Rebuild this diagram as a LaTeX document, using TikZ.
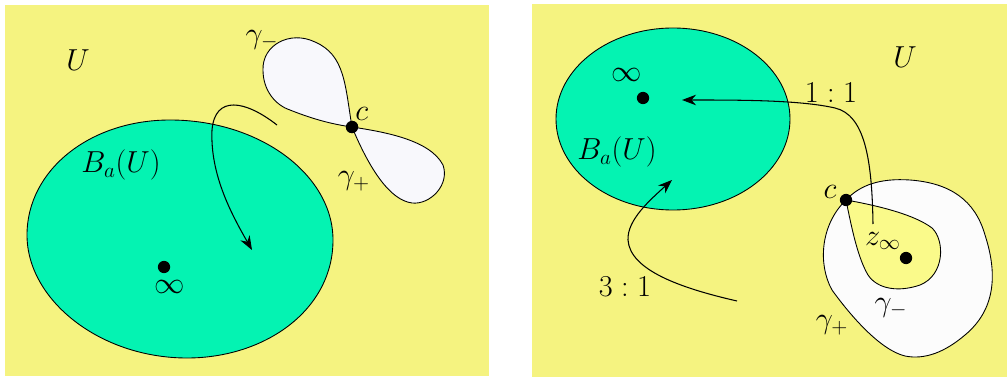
\documentclass[tikz,border=0pt]{standalone}
\usetikzlibrary{arrows.meta}
\definecolor{bgY}{RGB}{245,243,128}
\definecolor{inY}{RGB}{250,250,138}
\definecolor{grn}{RGB}{4,243,178}
\definecolor{lav}{RGB}{248,248,252}
\definecolor{wht}{RGB}{252,252,252}
\begin{document}
\begin{tikzpicture}[x=0.02cm,y=-0.02cm,
  outline/.style={draw=black,line width=0.5pt},
  arr/.style={draw=black,line width=0.6pt,-{Stealth[length=8pt,width=6pt]}},
  lbl/.style={inner sep=0pt,font=\fontsize{18}{20}\selectfont},
  dotn/.style={circle,fill=black,inner sep=0pt,minimum size=7pt}]
\useasboundingbox (0,0) rectangle (1007,378);
% panels
\fill[bgY] (5,5) rectangle (489,376);
\fill[bgY] (532,4) rectangle (1007,377);
% ---------- left panel ----------
\draw[outline,fill=grn] (27,235) .. controls (27,170) and (90,120) .. (170,120)
  .. controls (260,120) and (333,175) .. (333,240)
  .. controls (333,310) and (265,358) .. (187,358)
  .. controls (100,358) and (27,300) .. cycle;
\node[lbl] (U1) at (78,60) {$U$};
\node[lbl] (B1) at (121,165) {$B_a(U)$};
\node[dotn] (inf1) at (164,267) {};
\node[lbl] (inflab1) at (170,287) {$\infty$};
% loops
\node[dotn] (c1) at (352,127) {};
\draw[outline,fill=lav] (c1.center) .. controls (345,85) and (345,55) .. (315,42)
  .. controls (290,30) and (262,45) .. (263,70)
  .. controls (263,90) and (275,105) .. (290,110)
  .. controls (310,118) and (330,124) .. (c1.center);
\draw[outline,fill=lav] (c1.center) .. controls (385,132) and (430,140) .. (443,165)
  .. controls (450,185) and (430,205) .. (412,203)
  .. controls (390,200) and (370,170) .. (c1.center);
\node[dotn] (c1b) at (352,127) {};
\node[lbl,anchor=west] (clab1) at (355,114) {$c$};
\node[lbl] (gm1) at (262,40) {$\gamma_{-}$};
\node[lbl] (gp1) at (354,181) {$\gamma_{+}$};
\coordinate (s1) at (277,125);
\coordinate (t1) at (252,250);
\draw[arr] (s1) .. controls (245,100) and (215,95) .. (212,130) .. controls (210,175) and (232,215) .. (t1);
% ---------- right panel ----------
\draw[outline,fill=grn] (673,119) ellipse [x radius=117, y radius=91];
\node[lbl] (U2) at (905,57) {$U$};
\node[lbl] (B2) at (617,152) {$B_a(U)$};
\node[lbl] (inflab2) at (627,75) {$\infty$};
\node[dotn] (inf2) at (643,98) {};
% gamma+ region
\coordinate (c2) at (846,200);
\draw[outline,fill=wht] (c2) .. controls (860,185) and (880,178) .. (910,180)
  .. controls (950,183) and (975,200) .. (985,235)
  .. controls (998,275) and (995,310) .. (965,335)
  .. controls (945,352) and (925,360) .. (905,356)
  .. controls (880,350) and (850,315) .. (832,290)
  .. controls (818,265) and (820,225) .. (c2);
\draw[outline,fill=inY] (c2) .. controls (880,206) and (915,215) .. (932,228)
  .. controls (945,240) and (945,275) .. (920,285)
  .. controls (900,292) and (878,290) .. (868,275)
  .. controls (858,258) and (852,230) .. (c2);
\node[dotn] (c2d) at (846,200) {};
\node[lbl] (clab2) at (830,192) {$c$};
\node[dotn] (z2) at (906,258) {};
\node[lbl] (zlab) at (883,241) {$z_\infty$};
\node[lbl] (gm2) at (891,308) {$\gamma_{-}$};
\node[lbl] (gp2) at (832,325) {$\gamma_{+}$};
\node[lbl] (r11) at (831,93) {$1:1$};
\node[lbl] (r31) at (625,287) {$3:1$};
\coordinate (s2) at (873,224);
\coordinate (t2) at (682,100);
\draw[arr] (s2) .. controls (872,160) and (865,115) .. (835,108) .. controls (800,100) and (740,100) .. (t2);
\coordinate (s3) at (737,301);
\coordinate (t3) at (672,180);
\draw[arr] (s3) .. controls (680,288) and (630,270) .. (628,240) .. controls (627,220) and (650,200) .. (t3);
\end{tikzpicture}
\end{document}
